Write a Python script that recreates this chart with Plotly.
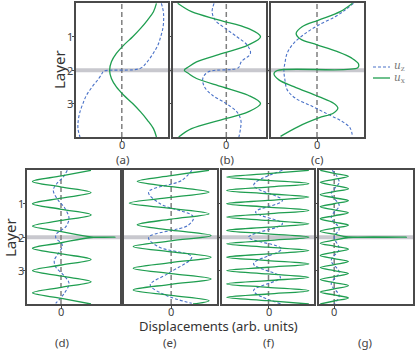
import plotly.graph_objects as go

# layer positions (y) and displacement values (x, arb. units)
# (a)
a_ux_layer = [0, 0.25, 0.5, 0.75, 1.0, 1.25, 1.5, 1.75, 2.0, 2.25, 2.5, 2.75, 3.0, 3.25, 3.5, 3.75, 4.0]
a_ux = [35, 32, 26, 19, 11, 2, -5.5, -10.5, -12.3, -10.5, -5.5, 2, 11, 19, 26, 32, 35]
a_uz_layer = [0, 0.25, 0.5, 0.75, 1.0, 1.25, 1.5, 1.75, 1.95, 2.03, 2.1, 2.25, 2.5, 2.75, 3.0, 3.25, 3.5, 3.75, 4.0]
a_uz = [40, 42, 42.3, 41.5, 39.3, 36.5, 31.7, 25.7, 18.3, -18.3, -20, -23.3, -30, -35.7, -39.3, -42.3, -44, -44.3, -42.3]

# (b)
b_ux_layer = [0, 0.25, 0.5, 0.75, 1.0, 1.25, 1.5, 1.75, 1.9, 2.0, 2.1, 2.25, 2.5, 2.75, 3.0, 3.25, 3.5, 3.75, 4.0]
b_ux = [-49, -35, -7, 22, 34.5, 22, -4, -30, -38, -42.3, -38, -30, -4, 22, 34.5, 22, -7, -35, -48]
b_uz_layer = [0, 0.25, 0.5, 0.75, 1.0, 1.25, 1.5, 1.75, 1.93, 2.05, 2.25, 2.5, 2.75, 3.0, 3.25, 3.5, 3.75, 4.0]
b_uz = [-12.3, -14.3, -11.3, -1, 10.7, 21, 24.3, 15, 12, -18, -23.7, -22, -14, 0, 10.7, 14.7, 14.3, 12.7]

# (c)
c_ux_layer = [0, 0.25, 0.5, 0.7, 0.9, 1.07, 1.24, 1.44, 1.64, 1.81, 1.93, 2.01, 2.11, 2.29, 2.49,
              2.79, 2.99, 3.13, 3.28, 3.43, 3.68, 3.98]
c_ux = [35.7, 23.3, 1.7, -15, -21, -16.7, 0, 20, 35, 41.7, 41, -40, -43.3, -38.3, -23.3,
        1.7, 16.7, 21, 16.7, 1.7, -18.3, -36.7]
c_uz_layer = [0, 0.2, 0.4, 0.65, 0.9, 1.19, 1.49, 1.79, 2.0, 2.29, 2.59, 2.84, 3.08, 3.33, 3.53, 3.73, 3.98]
c_uz = [36.7, 28.3, 18.3, 1.7, -11.7, -23.3, -30, -32.3, -33.3, -32.3, -30, -21.7, -5, 11.7, 25, 33.3, 35.7]

# (d)
d_ux_layer = [0, 0.167, 0.333, 0.5, 0.667, 0.833, 1.0, 1.167, 1.333, 1.5, 1.667, 1.833, 1.99, 2.0, 2.01,
              2.167, 2.333, 2.5, 2.667, 2.833, 3.0, 3.167, 3.333, 3.5, 3.667, 3.833, 4.0]
d_ux = [30, 0.5, -28.5, 0.5, 30, 0.5, -28.5, 0.5, 30, 0.5, -28.5, 0.5, 30, 54, 30,
        0.5, -28.5, 0.5, 30, 0.5, -28.5, 0.5, 30, 0.5, -28.5, 0.5, 30]
d_uz_layer = [0, 0.2, 0.4, 0.6, 0.9, 1.14, 1.44, 1.69, 1.89, 2.01, 2.24, 2.49, 2.69, 2.89, 3.13, 3.38, 3.68, 3.98]
d_uz = [6.3, 2.3, -4.3, -7.7, -2.7, 4, 8, 4.7, -4.3, -5.3, 1.3, -2.7, -6.7, -5.3, 2.3, 8, 3.3, -5.3]

# (e)
e_ux_layer = [0, 0.16, 0.33, 0.49, 0.65, 0.81, 0.98, 1.14, 1.3, 1.46, 1.63, 1.79, 1.95, 2.11, 2.28, 2.44,
              2.6, 2.76, 2.93, 3.09, 3.25, 3.41, 3.58, 3.74, 3.9, 4.0]
e_ux = [38, 0, -34, 0, 38, 0, -42, 0, 38, 0, -34, 0, 40, 0, -38, 0,
        40, 0, -38, 0, 40, 0, -38, 0, 38, 22]
e_uz_layer = [0, 0.3, 0.65, 1.0, 1.39, 1.64, 2.01, 2.29, 2.59, 3.08, 3.43, 3.73, 3.98]
e_uz = [20.7, 10.7, -22.7, -11, 22.3, 17.3, -22.7, -12.7, 20.7, -2.7, -21, -6, 20.7]

# (f)
f_ux_layer = [0, 0.1, 0.2, 0.3, 0.4, 0.5, 0.6, 0.7, 0.8, 0.9, 1.0, 1.1, 1.2, 1.3, 1.4, 1.5, 1.6, 1.7, 1.8, 1.9, 2.0,
              2.1, 2.2, 2.3, 2.4, 2.5, 2.6, 2.7, 2.8, 2.9, 3.0, 3.1, 3.2, 3.3, 3.4, 3.5, 3.6, 3.7, 3.8, 3.9, 4.0]
f_ux = [40.5, -0.7, -42, -0.7, 40.5, -0.7, -42, -0.7, 40.5, -0.7, -42, -0.7, 40.5, -0.7, -42, -0.7, 40.5, -0.7, -42, -0.7, 40.5,
        -0.7, -42, -0.7, 40.5, -0.7, -42, -0.7, 40.5, -0.7, -42, -0.7, 40.5, -0.7, -42, -0.7, 40.5, -0.7, -42, -0.7, 40.5]
f_uz_layer = [0, 0.45, 0.9, 1.25, 1.6, 2.0, 2.35, 2.8, 3.2, 3.6, 4.0]
f_uz = [14, -15, 14, -13, 14, -20, 13, -15, 12, -15, 13]

# (g)
g_ux_layer = [0, 0.09, 0.18, 0.27, 0.36, 0.45, 0.55, 0.64, 0.73, 0.82, 0.91, 1.0, 1.09, 1.18, 1.27, 1.36,
              1.45, 1.55, 1.64, 1.73, 1.82, 1.91, 1.99, 2.0, 2.01, 2.09, 2.18, 2.27, 2.36, 2.45, 2.55,
              2.64, 2.73, 2.82, 2.91, 3.0, 3.09, 3.18, 3.27, 3.36, 3.45, 3.55, 3.64, 3.73, 3.82, 3.91, 4.0]
g_ux = [-14, 0, 14.3, 0, -14, 0, 14.3, 0, -14, 0, 14.3, 0, -14, 0, 14.3, 0,
        -14, 0, 14.3, 0, -14, 0, 14.3, 72.7, 14.3, 0, -14, 0, 14.3, 0, -14,
        0, 14.3, 0, -14, 0, 14.3, 0, -14, 0, 14.3, 0, -14, 0, 14.3, 0, -14]
g_uz_layer = [0, 0.35, 0.7, 1.05, 1.4, 1.75, 2.0, 2.35, 2.7, 3.05, 3.4, 3.75, 4.0]
g_uz = [-2, 5, -3, 5, -3, 5, 0, 5, -3, 5, -3, 5, 0]

labels = ["(a)", "(b)", "(c)", "(d)", "(e)", "(f)", "(g)"]
layer_ticks = [1, 2, 3]
x_ranges = [[-46.3, 46.7], [-53.7, 40], [-46.3, 47.3], [-34, 59], [-47.3, 46], [-46.7, 45.7], [-15.3, 79.3]]

GREEN = "#1f9e50"
BLUE = "#4a72c8"
FRAME = "#4a4a4a"
TXT = "#444444"
FONT = "Noto Sans"

data = [
    (a_ux_layer, a_ux, a_uz_layer, a_uz),
    (b_ux_layer, b_ux, b_uz_layer, b_uz),
    (c_ux_layer, c_ux, c_uz_layer, c_uz),
    (d_ux_layer, d_ux, d_uz_layer, d_uz),
    (e_ux_layer, e_ux, e_uz_layer, e_uz),
    (f_ux_layer, f_ux, f_uz_layer, f_uz),
    (g_ux_layer, g_ux, g_uz_layer, g_uz),
]

# pixel boxes of the panels (left, right) and rows (top, bottom), figure 415x350
W, H = 415, 350
cols = [(76, 168), (173, 266), (271, 364), (27, 120), (124, 217), (222, 314), (319, 413)]
rows = [(3, 137)] * 3 + [(170, 304)] * 4
label_x = [122, 227, 317, 62, 169, 268, 365]


def note(text, x, y, size=12, color=TXT, angle=0, family=FONT, xanchor="center"):
    return dict(text=text, x=x / W, y=1 - y / H, xref="paper", yref="paper", showarrow=False,
                xanchor=xanchor, yanchor="middle", textangle=angle,
                font=dict(size=size, color=color, family=family))


fig = go.Figure()
layout = {}
shapes = []
annotations = []

# grey band marking layer 2, one per row, running across the panel gaps
for row_first, x0, x1 in ((0, 74, 366), (3, 25, 415)):
    n = "" if row_first == 0 else str(row_first + 1)
    shapes.append(dict(type="line", xref="paper", x0=x0 / W, x1=x1 / W, yref="y" + n, y0=2, y1=2,
                       line=dict(color="#c8c8ce", width=4), layer="below"))

for i, (uxl, ux, uzl, uz) in enumerate(data):
    n = "" if i == 0 else str(i + 1)
    xa, ya = "x" + n, "y" + n
    fig.add_trace(go.Scatter(x=uz, y=uzl, mode="lines", line=dict(color=BLUE, width=1.1, dash="3px,2px", shape="spline"),
                             name="u_z", showlegend=False, xaxis=xa, yaxis=ya))
    fig.add_trace(go.Scatter(x=ux, y=uxl, mode="lines", line=dict(color=GREEN, width=1.3, shape="spline"),
                             name="u_x", showlegend=False, xaxis=xa, yaxis=ya))
    left, right = cols[i]
    top, bottom = rows[i]
    layout["xaxis" + n] = dict(domain=[left / W, right / W], anchor=ya, range=x_ranges[i],
                               showline=True, mirror=True, linecolor=FRAME, linewidth=1.5,
                               showgrid=False, zeroline=False, tickvals=[0], showticklabels=False,
                               ticks="outside", ticklen=3, tickcolor=FRAME)
    layout["yaxis" + n] = dict(domain=[1 - bottom / H, 1 - top / H], anchor=xa, range=[4.0, -0.01],
                               showline=True, mirror=True, linecolor=FRAME, linewidth=1.5,
                               showgrid=False, zeroline=False, tickvals=layer_ticks, showticklabels=False,
                               ticks="outside", ticklen=2, tickcolor=FRAME)
    shapes.append(dict(type="line", xref=xa, x0=0, x1=0, yref=ya + " domain", y0=0, y1=1,
                       line=dict(color="#808080", width=1.5, dash="5px,3px"), layer="below"))
    # tick label "0" placed tight under the frame, as in the original
    annotations.append(dict(text="0", x=0, xref=xa, y=1 - (144 if i < 3 else 311) / H, yref="paper",
                            showarrow=False, xanchor="center", yanchor="middle",
                            font=dict(size=11, color=TXT, family=FONT)))
    if i in (0, 3):
        for t in layer_ticks:
            annotations.append(dict(text=str(t), x=(left - 6) / W, xref="paper", y=t, yref=ya,
                                    showarrow=False, xanchor="center", yanchor="middle",
                                    font=dict(size=11, color=TXT, family=FONT)))
    annotations.append(note(labels[i], label_x[i], 159 if i < 3 else 342, size=11.5))

# legend keys drawn by hand (plotly's legend symbols are too long for this space)
shapes.append(dict(type="line", xref="paper", yref="paper", x0=373 / W, x1=390 / W, y0=1 - 67 / H, y1=1 - 67 / H,
                   line=dict(color=BLUE, width=1.1, dash="3px,2px")))
shapes.append(dict(type="line", xref="paper", yref="paper", x0=373 / W, x1=390 / W, y0=1 - 78 / H, y1=1 - 78 / H,
                   line=dict(color=GREEN, width=1.3)))
annotations.append(note("<i>u</i><sub>z</sub>", 392, 66, size=10.5, color="#777", family="DejaVu Serif", xanchor="left"))
annotations.append(note("<i>u</i><sub>x</sub>", 392, 78, size=10.5, color="#777", family="DejaVu Serif", xanchor="left"))

annotations += [
    note("Layer", 59, 70, size=15, color="#333", angle=-90),
    note("Layer", 10, 238, size=15, color="#333", angle=-90),
    note("Displacements (arb. units)", 218, 325.5, size=13, color="#333"),
]

fig.update_layout(
    width=W, height=H, margin=dict(l=0, r=0, t=0, b=0, autoexpand=False),
    paper_bgcolor="white", plot_bgcolor="white", showlegend=False,
    shapes=shapes, annotations=annotations,
    **layout,
)

# the page body has a default 8px margin; remove it so the figure sits at the window corner
fig.write_html("out.html", config={"displayModeBar": False},
               post_script="document.body.style.margin='0';")
